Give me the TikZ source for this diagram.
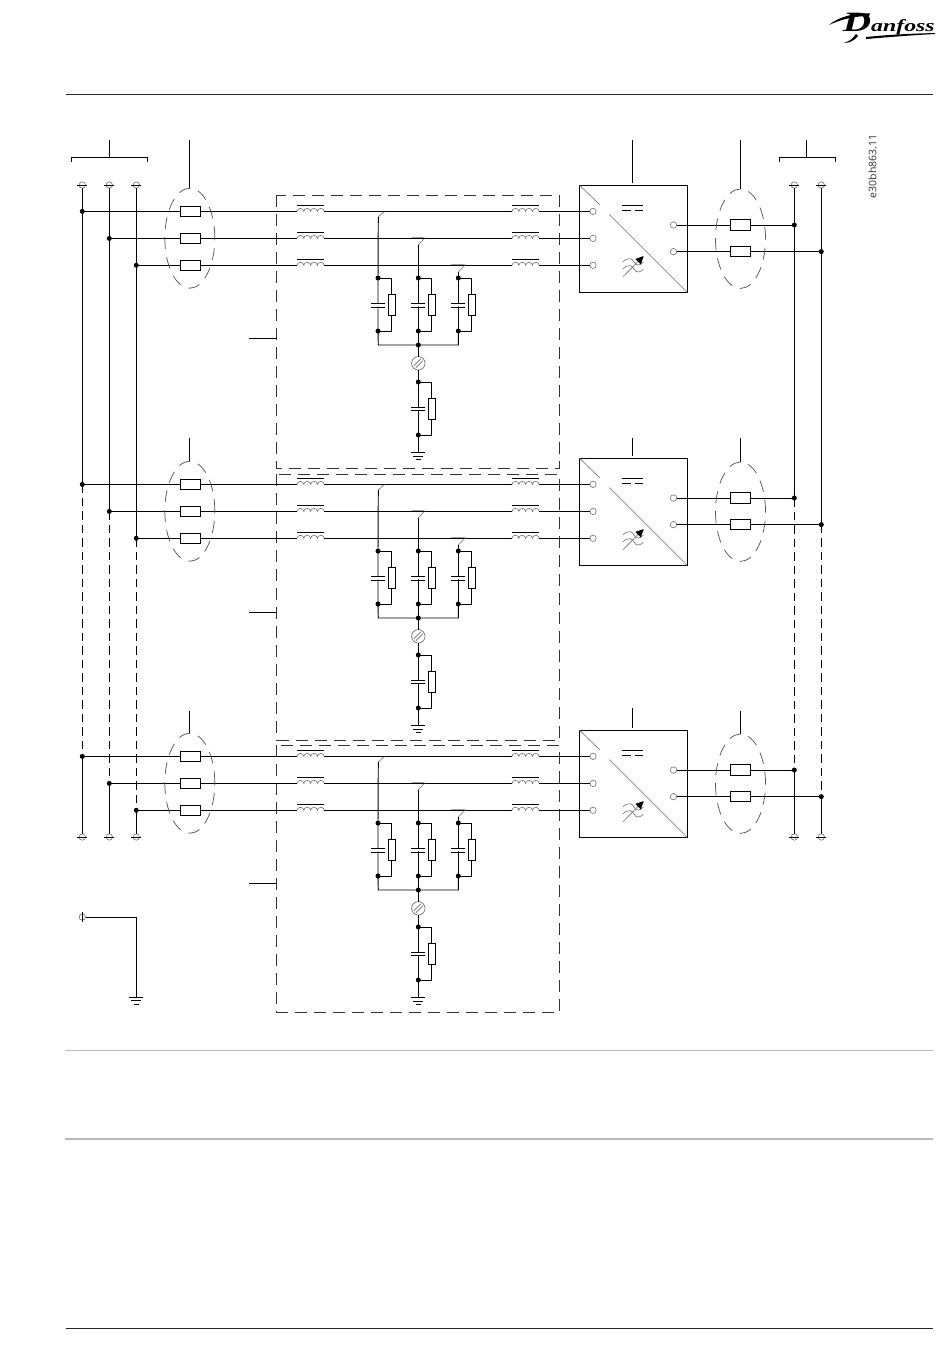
\documentclass[tikz,border=0pt]{standalone}
\usepackage{fontspec}
\setmainfont{Liberation Serif}
\newfontfamily\codefont{Open Sans}
\usetikzlibrary{calc}
\definecolor{rulegray}{HTML}{B0BBC3}
\definecolor{softgray}{HTML}{707070}
\tikzset{
  x=1pt,y=-1pt,
  wire/.style={line width=0.95pt,black},
  thinwire/.style={line width=0.6pt,softgray},
  buswire/.style={line width=0.95pt,black},
  busdash/.style={line width=0.95pt,black,dash pattern=on 8.5pt off 5pt},
  boxdash/.style={line width=0.85pt,black!80,dash pattern=on 12pt off 7pt},
  elldash/.style={line width=0.75pt,black!65,dash pattern=on 12pt off 8pt},
  fusebox/.style={draw,line width=0.95pt,fill=white,rectangle,minimum width=20.5pt,minimum height=10.5pt,inner sep=0pt,outer sep=0pt},
  resbox/.style={draw,line width=0.95pt,fill=white,rectangle,minimum width=7pt,minimum height=20.5pt,inner sep=0pt,outer sep=0pt},
  conbox/.style={draw,line width=0.95pt,rectangle,minimum width=108pt,minimum height=107.5pt,inner sep=0pt,outer sep=0pt},
  dotnode/.style={circle,fill=black,draw=none,minimum size=5pt,inner sep=0pt,outer sep=0pt},
  port/.style={circle,draw=softgray,line width=0.6pt,fill=white,minimum size=6.4pt,inner sep=0pt,outer sep=0pt},
  termcirc/.style={circle,draw=softgray,line width=0.6pt,fill=white,minimum size=6.4pt,inner sep=0pt,outer sep=0pt},
  varnode/.style={circle,draw=softgray,line width=0.7pt,fill=white,minimum size=13.5pt,inner sep=0pt,outer sep=0pt},
}
\newcommand{\coil}[2]{%
  \coordinate (#1w) at (#2);
  \coordinate (#1e) at ($(#2)+(27,0)$);
  \draw[thinwire] (#1w) arc[start angle=180,end angle=0,x radius=3.4pt,y radius=3pt]
    arc[start angle=180,end angle=0,x radius=3.4pt,y radius=3pt]
    arc[start angle=180,end angle=0,x radius=3.4pt,y radius=3pt]
    arc[start angle=180,end angle=0,x radius=3.4pt,y radius=3pt];
  \draw[wire] ($(#1w)+(0,-5.5)$) -- ($(#1e)+(0,-5.5)$);
}
\newcommand{\earth}[1]{%
  \draw[wire] ($(#1)+(-7,0)$) -- ($(#1)+(7,0)$);
  \draw[wire] ($(#1)+(-5,3.6)$) -- ($(#1)+(5,3.6)$);
  \draw[wire] ($(#1)+(-2.5,7.2)$) -- ($(#1)+(2.5,7.2)$);
}
\newcommand{\terminal}[2]{%
  \node[termcirc] (#1) at (#2) {};
  \draw[wire] ($(#2)+(-5,0)$) -- ($(#2)+(5,0)$);
}
\newcommand{\capacitor}[3]{%
  \draw[wire] (#1,#2) ++(-7,0) -- ++(14,0);
  \draw[wire] (#1,#3) ++(-7,0) -- ++(14,0);
}
% #1 prefix, #2 y offset, #3 top of the stems of fuses, #4 top of the stem of the converter, #5 y of the stub
\newcommand{\module}[5]{%
\begin{scope}[yshift=-#2pt]
  % fuses
  \node[fusebox] (#1fa) at (190.3,211.4) {};
  \node[fusebox] (#1fb) at (190.3,238.4) {};
  \node[fusebox] (#1fc) at (190.3,265.3) {};
  \node[fusebox] (#1fd) at (740.5,225) {};
  \node[fusebox] (#1fe) at (740.5,251.6) {};
  % bus dots
  \node[dotnode] (#1da) at (82.3,211.4) {};
  \node[dotnode] (#1db) at (109.3,238.4) {};
  \node[dotnode] (#1dc) at (136.3,265.3) {};
  \node[dotnode] (#1dd) at (794.3,225) {};
  \node[dotnode] (#1de) at (821.3,251.6) {};
  % converter
  \node[conbox] (#1con) at (633.3,238.75) {};
  \node[port] (#1pa) at (593,211.4) {};
  \node[port] (#1pb) at (593,238.4) {};
  \node[port] (#1pc) at (593,265.3) {};
  \node[port] (#1pd) at (673.5,225) {};
  \node[port] (#1pe) at (673.5,251.6) {};
  \draw[thinwire] (#1con.north west) -- (600,205);
  \draw[thinwire] (609.3,214.6) -- (#1con.south east);
  \draw[wire] (622,205.3) -- (643,205.3);
  \draw[wire] (622,210.3) -- (631,210.3) (635,210.3) -- (643,210.3);
  \draw[thinwire] (622.7,262) .. controls (628,257) and (632,258) .. (634,262) .. controls (636,266) and (640,266) .. (643.5,262);
  \draw[thinwire] (622.7,269) .. controls (628,264) and (632,265) .. (634,269) .. controls (636,273) and (640,273) .. (643.5,269);
  \draw[thinwire] (623,276.7) -- (638,261.5);
  \fill[black] (643.7,256) -- (640.8,264.5) -- (635.3,259) -- cycle;
  % chokes
  \coil{#1ia}{297,211.4}
  \coil{#1ib}{297,238.4}
  \coil{#1ic}{297,265.3}
  \coil{#1ja}{512,211.4}
  \coil{#1jb}{512,238.4}
  \coil{#1jc}{512,265.3}
  % lines
  \draw[wire] (#1da.center) -- (#1fa.west) (#1fa.east) -- (#1iaw) (#1iae) -- (#1jaw) (#1jae) -- (#1pa.west);
  \draw[wire] (#1db.center) -- (#1fb.west) (#1fb.east) -- (#1ibw) (#1ibe) -- (#1jbw) (#1jbe) -- (#1pb.west);
  \draw[wire] (#1dc.center) -- (#1fc.west) (#1fc.east) -- (#1icw) (#1ice) -- (#1jcw) (#1jce) -- (#1pc.west);
  \draw[wire] (#1pd.east) -- (#1fd.west) (#1fd.east) -- (#1dd.center);
  \draw[wire] (#1pe.east) -- (#1fe.west) (#1fe.east) -- (#1de.center);
  % ovals
  \draw[elldash] (189.8,238.2) circle[x radius=25pt,y radius=50pt];
  \draw[elldash] (740.5,238.7) circle[x radius=25pt,y radius=49.7pt];
  % branches
  \node[dotnode] (#1ta) at (378,278) {};
  \node[dotnode] (#1tb) at (418.3,278) {};
  \node[dotnode] (#1tc) at (458.3,278) {};
  \node[dotnode] (#1ua) at (378,331) {};
  \node[dotnode] (#1ub) at (418.3,331) {};
  \node[dotnode] (#1uc) at (458.3,331) {};
  \node[resbox] (#1ra) at (391.5,305.2) {};
  \node[resbox] (#1rb) at (431.7,305.2) {};
  \node[resbox] (#1rc) at (471.7,305.2) {};
  \coordinate (#1sa) at (378.3,217);
  \coordinate (#1sb) at (418.3,245);
  \coordinate (#1sc) at (458.3,272);
  \draw[thinwire] (#1sa) -- (384.3,211.4);
  \draw[thinwire] (#1sb) -- (424.3,238.4) (412,237.6) -- (424.3,237.6);
  \draw[thinwire] (#1sc) -- (465,265.3) (451,264.6) -- (465,264.6);
  \draw[wire] (#1sa) -- (#1ta.center) -- (#1ua.center);
  \draw[wire] (#1sb) -- (#1tb.center) -- (#1ub.center);
  \draw[wire] (#1sc) -- (#1tc.center) -- (#1uc.center);
  \draw[wire] (#1ta.center) -| (#1ra.north) (#1ra.south) |- (#1ua.center);
  \draw[wire] (#1tb.center) -| (#1rb.north) (#1rb.south) |- (#1ub.center);
  \draw[wire] (#1tc.center) -| (#1rc.north) (#1rc.south) |- (#1uc.center);
  \fill[white] (371,304.2) rectangle (385,306.3) (411,304.2) rectangle (425,306.3) (451,304.2) rectangle (465,306.3);
  \capacitor{378.3}{303.5}{307}
  \capacitor{418.3}{303.5}{307}
  \capacitor{458.3}{303.5}{307}
  % star point
  \node[dotnode] (#1st) at (418.3,345) {};
  \draw[wire] (#1ua.center) -- (378.3,345) -- (#1st.center) -- (458.3,345) -- (#1uc.center);
  \draw[wire] (#1ub.center) -- (#1st.center);
  \node[varnode] (#1var) at (418.3,363.3) {};
  \draw[thinwire] (413.8,365.8) -- (420.8,358.8) (415.8,367.8) -- (422.8,360.8);
  \node[dotnode] (#1g) at (418.3,382) {};
  \node[dotnode] (#1h) at (418.3,435) {};
  \node[resbox] (#1rg) at (431.7,408.8) {};
  \coordinate (#1e) at (418.3,452.7);
  \draw[wire] (#1st.center) -- (#1var.north) (#1var.south) -- (#1g.center) -- (#1h.center) -- (#1e);
  \draw[wire] (#1g.center) -| (#1rg.north) (#1rg.south) |- (#1h.center);
  \fill[white] (411,407.7) rectangle (425,409.5);
  \capacitor{418.3}{407}{410.2}
  \earth{#1e}
  % pointers
  \coordinate (#1pla) at (189.3,#3);
  \coordinate (#1plb) at (632.5,#4);
  \coordinate (#1plc) at (740.5,#3);
  \coordinate (#1pld) at (189.3,188);
  \coordinate (#1ple) at (632.5,183);
  \coordinate (#1plf) at (740.5,189);
  \draw[wire] (#1pla) -- (#1pld);
  \draw[wire] (#1plb) -- (#1ple);
  \draw[wire] (#1plc) -- (#1plf);
  \coordinate (#1pg) at (249,#5);
  \coordinate (#1ph) at (276.5,#5);
  \draw[wire] (#1pg) -- (#1ph);
\end{scope}}
\begin{document}
\begin{tikzpicture}
\useasboundingbox (0,0) rectangle (950,1369);
\fill[white] (0,0) rectangle (950,1369);
% page furniture
\coordinate (hl) at (66,94.7); \coordinate (hr) at (933,94.7);
\draw[line width=0.9pt,black!85] (hl) -- (hr);
\coordinate (nl) at (65,1050.3); \coordinate (nr) at (933,1050.3);
\draw[line width=0.9pt,rulegray] (nl) -- (nr);
\coordinate (ml) at (65,1139); \coordinate (mr) at (933,1139);
\draw[line width=1.8pt,rulegray] (ml) -- (mr);
\coordinate (fl) at (66,1328); \coordinate (fr) at (933,1328);
\draw[line width=0.9pt,black!85] (fl) -- (fr);
% logo
\node[anchor=base east,inner sep=0pt,xscale=1.4,font=\bfseries\itshape] (logo) at (935,31)
  {{\fontsize{28}{28}\selectfont D}{\fontsize{17}{17}\selectfont anfoss}};
\fill[black] (829,25) .. controls (838,17) and (855,12.5) .. (870,13.5) -- (869,16) .. controls (855,16) and (842,19) .. (829,25) -- cycle;
\fill[black] (843,42) .. controls (847,43) and (852,40) .. (856,34) -- (858,36) .. controls (853,42) and (847,44) .. (843,42) -- cycle;
\fill[black] (866,37) .. controls (890,34.5) and (915,33.5) .. (935,33) -- (935,34) .. controls (915,35) and (890,37) .. (866,39) -- cycle;
% code
\node[rotate=90,font=\codefont\fontsize{10.5}{11}\selectfont,text=black!80,inner sep=0pt] (code) at (872.5,166.5) {e30bh863.11};
% dashed boxes
\coordinate (ba) at (276.5,195); \coordinate (bb) at (559,468);
\coordinate (bc) at (276.5,474); \coordinate (bd) at (559,740);
\coordinate (be) at (276.5,745); \coordinate (bf) at (559,1012);
\draw[boxdash] (ba) rectangle (bb);
\draw[boxdash] (bc) rectangle (bd);
\draw[boxdash] (be) rectangle (bf);
% buses: brackets and terminals
\coordinate (la) at (71.5,162); \coordinate (lb) at (71.5,157.3); \coordinate (lc) at (147.5,157.3); \coordinate (ld) at (147.5,162);
\coordinate (le) at (109.3,140); \coordinate (lf) at (109.3,157.3);
\draw[wire] (la) -- (lb) -- (lc) -- (ld);
\draw[wire] (le) -- (lf);
\coordinate (ra) at (779.5,162); \coordinate (rb) at (779.5,157.3); \coordinate (rc) at (835.5,157.3); \coordinate (rd) at (835.5,162);
\coordinate (re) at (806.5,140); \coordinate (rf) at (806.5,157.3);
\draw[wire] (ra) -- (rb) -- (rc) -- (rd);
\draw[wire] (re) -- (rf);
\terminal{ta}{82.3,185}
\terminal{tb}{109.3,185}
\terminal{tc}{136.3,185}
\terminal{td}{794.3,185}
\terminal{te}{821.3,185}
\terminal{ba1}{82.3,837}
\terminal{bb1}{109.3,837}
\terminal{bc1}{136.3,837}
\terminal{bd1}{794.3,837}
\terminal{be1}{821.3,837}
% modules
\module{x}{0}{140}{140}{338.2}
\module{y}{273}{165}{165}{339.5}
\module{z}{545}{166}{163}{338.5}
% buses
\draw[buswire] (ta.south) -- (xda.center) -- (yda.center);
\draw[busdash] (yda.center) -- (zda.center);
\draw[buswire] (zda.center) -- (ba1.north);
\draw[buswire] (tb.south) -- (xdb.center) -- (ydb.center);
\draw[busdash] (ydb.center) -- (zdb.center);
\draw[buswire] (zdb.center) -- (bb1.north);
\draw[buswire] (tc.south) -- (xdc.center) -- (ydc.center);
\draw[busdash] (ydc.center) -- (zdc.center);
\draw[buswire] (zdc.center) -- (bc1.north);
\draw[buswire] (td.south) -- (xdd.center) -- (ydd.center);
\draw[busdash] (ydd.center) -- (zdd.center);
\draw[buswire] (zdd.center) -- (bd1.north);
\draw[buswire] (te.south) -- (xde.center) -- (yde.center);
\draw[busdash] (yde.center) -- (zde.center);
\draw[buswire] (zde.center) -- (be1.north);
% PE
\node[termcirc] (pe) at (82.3,917) {};
\coordinate (pea) at (82.3,912); \coordinate (peb) at (82.3,922);
\draw[wire] (pea) -- (peb);
\coordinate (pec) at (136.3,917); \coordinate (ped) at (136.3,997);
\draw[wire] (pe.east) -- (pec) -- (ped);
\earth{ped}
\end{tikzpicture}
\end{document}
